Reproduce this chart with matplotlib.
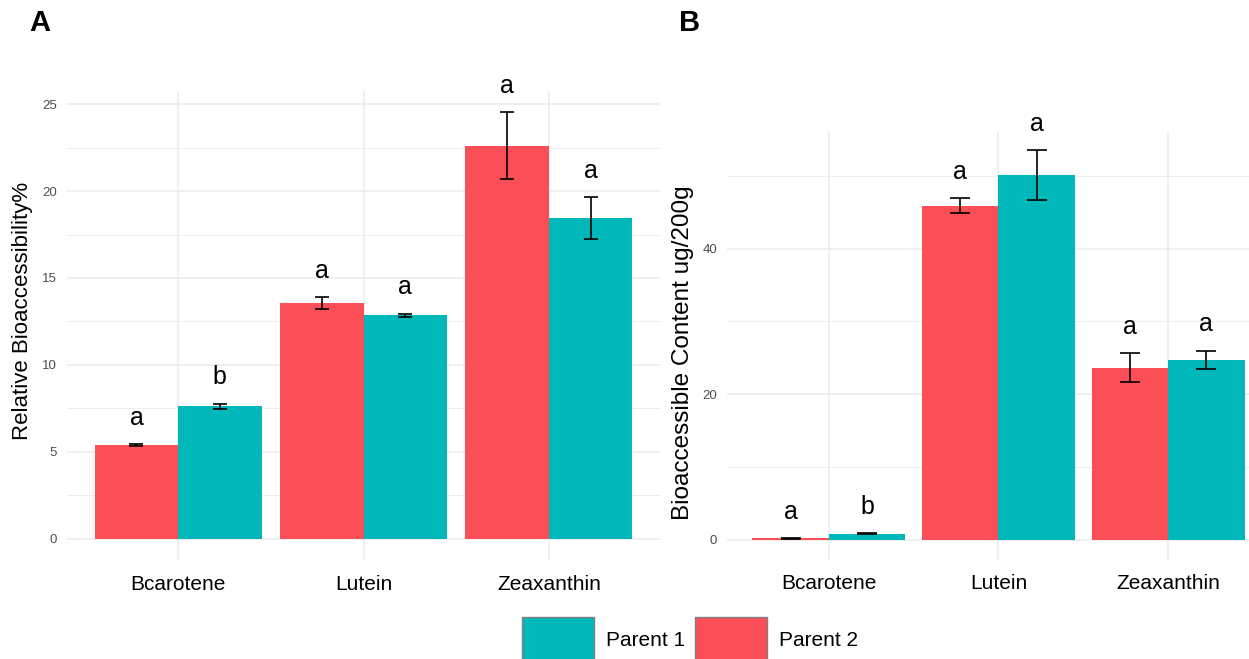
import matplotlib
matplotlib.use('Agg')
import matplotlib.pyplot as plt
from matplotlib.patches import Rectangle
import numpy as np

plt.rcParams['font.family'] = ['Liberation Sans', 'DejaVu Sans']

carotenoids = ['Bcarotene', 'Lutein', 'Zeaxanthin']
groups = ['Parent 1', 'Parent 2']

# relative bioaccessibility (%)
rel_p2 = [5.40, 13.55, 22.60]
rel_p2_sd = [0.05, 0.33, 1.93]
rel_p1 = [7.62, 12.85, 18.45]
rel_p1_sd = [0.15, 0.08, 1.20]
rel_p2_letters = ['a', 'a', 'a']
rel_p1_letters = ['b', 'a', 'a']

# bioaccessible content (ug/200g)
cont_p2 = [0.15, 45.9, 23.6]
cont_p2_sd = [0.05, 1.0, 2.0]
cont_p1 = [0.80, 50.1, 24.7]
cont_p1_sd = [0.08, 3.4, 1.24]
cont_p2_letters = ['a', 'a', 'a']
cont_p1_letters = ['b', 'a', 'a']

red = '#FB4E56'
teal = '#00B7B9'
grid_col = '#EBEBEB'

W, H = 1249, 659
fig = plt.figure(figsize=(W / 100, H / 100), dpi=100)


def box(x0, x1, ytop, ybot):
    return [x0 / W, 1 - ybot / H, (x1 - x0) / W, (ybot - ytop) / H]


def panel(ax, p2, p2_sd, p1, p1_sd, l2, l1, ylab, ylab_size, ylab_pos, ymaj, ymin, cap):
    x = np.arange(1, len(carotenoids) + 1)
    w = 0.45
    top = max(max(np.add(p2, p2_sd)), max(np.add(p1, p1_sd)))
    ax.set_ylim(-0.05 * top, 1.05 * top)
    ax.set_xlim(0.4, len(carotenoids) + 0.6)

    ax.set_yticks(ymaj)
    ax.set_yticks(ymin, minor=True)
    ax.set_xticks(x)
    ax.set_xticklabels(carotenoids)
    ax.grid(True, which='major', color=grid_col, lw=1.1)
    ax.grid(True, which='minor', axis='y', color=grid_col, lw=0.6)
    ax.set_axisbelow(True)
    for s in ax.spines.values():
        s.set_visible(False)
    ax.tick_params(which='both', length=0)
    ax.tick_params(axis='x', labelsize=15, pad=11, colors='black')
    ax.tick_params(axis='y', labelsize=9.5, pad=7, labelcolor='#4D4D4D')
    ax.set_ylabel(ylab, fontsize=ylab_size)
    ax.yaxis.set_label_coords(*ylab_pos)

    ekw = dict(ecolor='black', elinewidth=1.2, capsize=cap, capthick=1.2)
    ax.bar(x - w / 2, p2, width=w, color=red, yerr=p2_sd, error_kw=ekw)
    ax.bar(x + w / 2, p1, width=w, color=teal, yerr=p1_sd, error_kw=ekw)

    for xi, m, s, t in zip(x - w / 2, p2, p2_sd, l2):
        ax.annotate(t, (xi, m + s), xytext=(0, 14), textcoords='offset points',
                    ha='center', va='baseline', fontsize=18, annotation_clip=False)
    for xi, m, s, t in zip(x + w / 2, p1, p1_sd, l1):
        ax.annotate(t, (xi, m + s), xytext=(0, 14), textcoords='offset points',
                    ha='center', va='baseline', fontsize=18, annotation_clip=False)


axA = fig.add_axes(box(67, 660, 91, 560))
panel(axA, rel_p2, rel_p2_sd, rel_p1, rel_p1_sd, rel_p2_letters, rel_p1_letters,
      'Relative Bioaccessibility%', 16, (-0.057, 0.53),
      np.arange(0, 26, 5), np.arange(2.5, 26, 5), 5)

axB = fig.add_axes(box(727, 1270, 131, 559))
panel(axB, cont_p2, cont_p2_sd, cont_p1, cont_p1_sd, cont_p2_letters, cont_p1_letters,
      'Bioaccessible Content ug/200g', 17.5, (-0.061, 0.481),
      [0, 20, 40], [10, 30, 50], 7.5)

fig.text(40 / W, 1 - 23 / H, 'A', fontsize=21, fontweight='bold', ha='center', va='center')
fig.text(690 / W, 1 - 23 / H, 'B', fontsize=21, fontweight='bold', ha='center', va='center')

# shared legend at the bottom, large keys running off the lower edge
for key_x, col, name in zip([522, 695], [teal, red], groups):
    fig.add_artist(Rectangle((key_x / W, 1 - 667 / H), 72 / W, 50 / H,
                             transform=fig.transFigure, facecolor=col,
                             edgecolor='#7F7F7F', lw=1, clip_on=False))
    fig.text((key_x + 84) / W, 1 - 640 / H, name, fontsize=15,
             ha='left', va='center')

fig.savefig('out.png', dpi=100)
